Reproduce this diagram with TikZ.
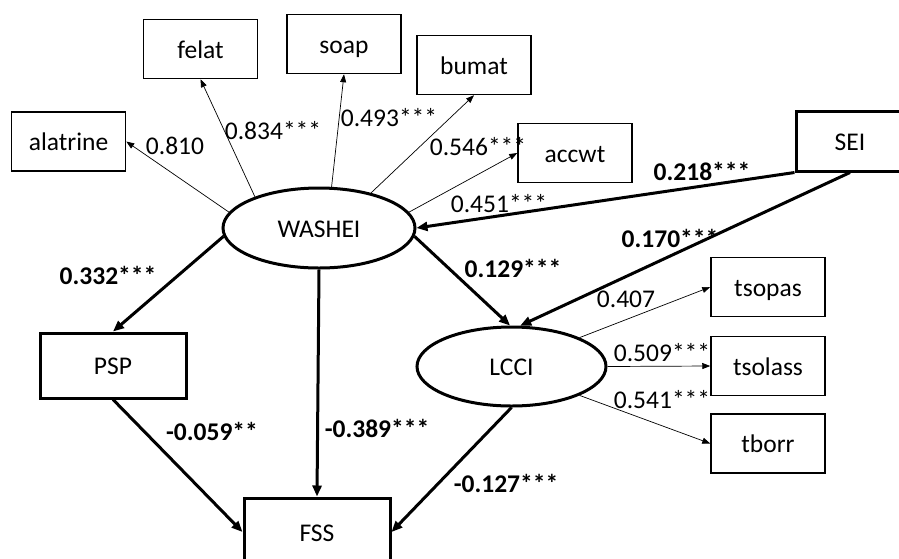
\documentclass[tikz,border=0pt]{standalone}
\usepackage{fontspec}
\setmainfont{Carlito}
\usetikzlibrary{arrows.meta,shapes.geometric}
\begin{document}
\begin{tikzpicture}[x=1pt,y=-1pt,
  font=\fontsize{25.5}{30}\selectfont,
  obs/.style={draw,line width=1.5pt,minimum width=114pt,minimum height=59pt,inner sep=0pt,text height=18pt,text depth=0pt},
  obsthick/.style={obs,line width=3pt},
  lat/.style={draw,ellipse,line width=3pt,minimum width=192pt,minimum height=80pt,inner sep=0pt,text height=18pt,text depth=0pt},
  lthin/.style={-{Triangle[length=8pt,width=6pt]},line width=0.7pt},
  lthick/.style={-{Triangle[length=11pt,width=9pt]},line width=3pt},
  lab/.style={inner sep=0pt},
  blab/.style={inner sep=0pt,font=\fontsize{25.5}{30}\selectfont\bfseries}]
\useasboundingbox (0,0) rectangle (899,558);
% observed indicators
\node[obs] (alatrine) at (68.5,141.5) {alatrine};
\node[obs] (felat) at (200.5,49) {felat};
\node[obs] (soap) at (344,44) {soap};
\node[obs] (bumat) at (474,65) {bumat};
\node[obs] (accwt) at (575,153) {accwt};
\node[obs] (tsopas) at (768,287) {tsopas};
\node[obs] (tsolass) at (768,366) {tsolass};
\node[obs] (tborr) at (768,443.5) {tborr};
% constructs
\node[obsthick,minimum width=108pt,minimum height=60pt] (sei) at (850,141) {SEI};
\node[lat] (washei) at (319,228) {WASHEI};
\node[lat,minimum width=189pt,minimum height=79pt] (lcci) at (511.5,366.5) {LCCI};
\node[obsthick,minimum width=146pt,minimum height=65pt] (psp) at (113,365.5) {PSP};
\node[obsthick,minimum width=146pt,minimum height=68pt] (fss) at (317,532) {FSS};
% loadings
\draw[lthin] (washei.170) -- (alatrine.east);
\draw[lthin] (washei.154) -- (felat.south);
\draw[lthin] (washei.73) -- (soap.south);
\draw[lthin] (washei.34) -- (bumat.south);
\draw[lthin] (washei.10) -- (accwt.west);
\draw[lthin] (lcci.23) -- (tsopas.west);
\draw[lthin] (lcci.east) -- (tsolass.west);
\draw[lthin] (lcci.-23) -- (tborr.west);
% structural paths
\draw[lthick] (sei.south west) -- (washei.east);
\draw[lthick] (sei.south) -- (lcci.78);
\draw[lthick] (washei.-5) -- (lcci.92);
\draw[lthick] (washei.185) -- (psp.north);
\draw[lthick] (washei.south) -- (fss.north);
\draw[lthick] (psp.south) -- (fss.west);
\draw[lthick] (lcci.south) -- (fss.east);
% labels
\node[lab] (l810) at (175,146) {0.810};
\node[lab] (l834) at (273,131) {0.834***};
\node[lab] (l493) at (389,117.5) {0.493***};
\node[lab] (l546) at (478,146.5) {0.546***};
\node[lab] (l451) at (499,203.5) {0.451***};
\node[blab] (l218) at (702,171.5) {0.218***};
\node[blab] (l170) at (670,238) {0.170***};
\node[blab] (l129) at (513,268) {0.129***};
\node[blab] (l332) at (108,275) {0.332***};
\node[blab] (l059) at (212,431) {-0.059**};
\node[blab] (l389) at (377,428) {-0.389***};
\node[blab] (l127) at (506,483) {-0.127***};
\node[lab] (l407) at (626,299.5) {0.407};
\node[lab] (l509) at (662,353) {0.509***};
\node[lab] (l541) at (662,400) {0.541***};
\end{tikzpicture}
\end{document}
